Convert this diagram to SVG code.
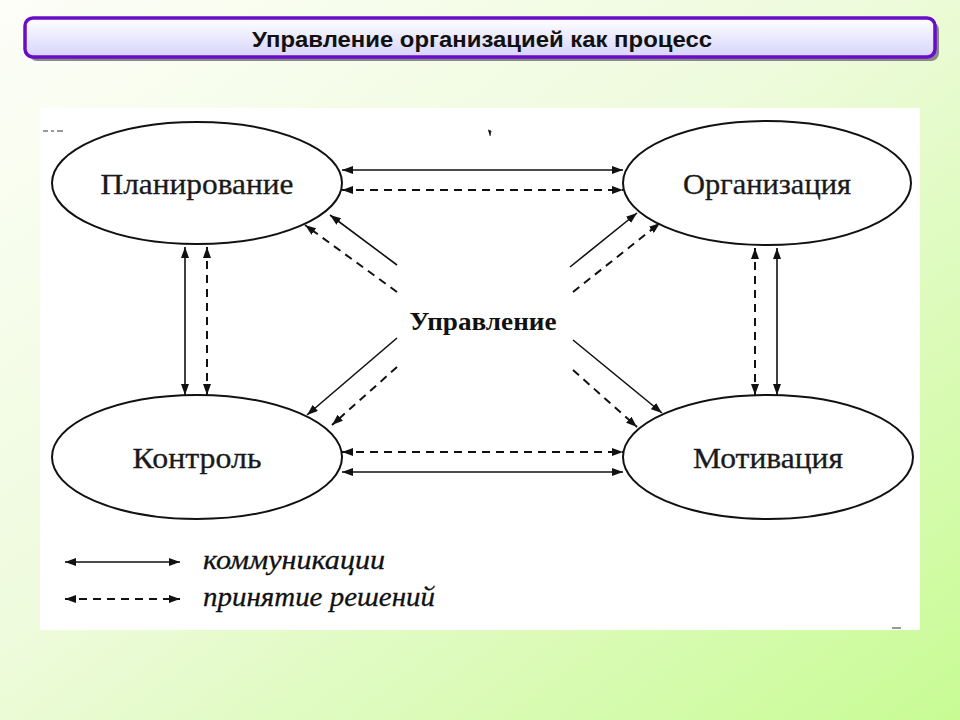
<svg xmlns="http://www.w3.org/2000/svg" width="960" height="720" viewBox="0 0 960 720">
<defs>
<linearGradient id="bg" x1="0" y1="0" x2="1" y2="1">
<stop offset="0" stop-color="#fdfef8"/>
<stop offset="0.45" stop-color="#eefbdc"/>
<stop offset="1" stop-color="#c8fb94"/>
</linearGradient>
<linearGradient id="tb" x1="0" y1="0" x2="0" y2="1">
<stop offset="0" stop-color="#ffffff"/>
<stop offset="1" stop-color="#d6d4fb"/>
</linearGradient>
<marker id="ah" viewBox="0 0 11 8" refX="11" refY="4" markerWidth="11" markerHeight="8" markerUnits="userSpaceOnUse" orient="auto-start-reverse">
<path d="M0,0 L11,4 L0,8 z" fill="#111"/>
</marker>
<style>
.node ellipse{fill:#fff;stroke:#111;stroke-width:2}
.lbl{font-family:"Liberation Serif","DejaVu Serif",serif;font-size:29px;fill:#1a1a1a;text-anchor:middle;stroke:#1a1a1a;stroke-width:0.3}
.sol{stroke:#111;stroke-width:1.6;fill:none}
.dsh{stroke:#111;stroke-width:2;fill:none;stroke-dasharray:8 6}
.leg{font-family:"Liberation Serif","DejaVu Serif",serif;font-style:italic;font-size:27px;fill:#111;stroke:#111;stroke-width:0.3}
</style>
</defs>
<rect width="960" height="720" fill="url(#bg)"/>
<g id="title">
<rect x="29" y="22" width="910" height="39" rx="8" fill="#888"/>
<rect x="25" y="18" width="910" height="39" rx="8" fill="url(#tb)" stroke="#6a0dc8" stroke-width="3.5"/>
<text x="482" y="47" font-family="'Liberation Sans','DejaVu Sans',sans-serif" font-weight="bold" font-size="22" text-anchor="middle" fill="#111" textLength="460" lengthAdjust="spacingAndGlyphs">Управление организацией как процесс</text>
</g>
<rect x="40" y="108" width="880" height="522" fill="#fff"/>
<g id="specks" stroke="#333" stroke-width="1">
<path d="M43,131 h5 M51,131 h3 M57,131 h6"/>
<path d="M488,130 l3,1 l-1,5"/>
<path d="M892,628 h9"/>
</g>
<g id="node-planirovanie" class="node">
<ellipse cx="197" cy="183" rx="145" ry="61"/>
<text class="lbl" x="197" y="194" textLength="193" lengthAdjust="spacingAndGlyphs">Планирование</text>
</g>
<g id="node-organizatsiya" class="node">
<ellipse cx="767" cy="183" rx="144" ry="62"/>
<text class="lbl" x="767" y="194" textLength="168" lengthAdjust="spacingAndGlyphs">Организация</text>
</g>
<g id="node-kontrol" class="node">
<ellipse cx="197" cy="457" rx="145" ry="62"/>
<text class="lbl" x="197" y="468" textLength="129" lengthAdjust="spacingAndGlyphs">Контроль</text>
</g>
<g id="node-motivatsiya" class="node">
<ellipse cx="768" cy="457" rx="145" ry="62"/>
<text class="lbl" x="768" y="468" textLength="150" lengthAdjust="spacingAndGlyphs">Мотивация</text>
</g>
<g id="node-upravlenie">
<text x="483" y="330" font-family="'Liberation Serif','DejaVu Serif',serif" font-weight="bold" font-size="25" text-anchor="middle" fill="#111" textLength="147" lengthAdjust="spacingAndGlyphs">Управление</text>
</g>
<g id="connectors">
<line class="sol" x1="342" y1="170" x2="623" y2="170" marker-start="url(#ah)" marker-end="url(#ah)"/>
<line class="dsh" x1="342" y1="190" x2="623" y2="190" marker-start="url(#ah)" marker-end="url(#ah)"/>
<line class="dsh" x1="342" y1="452" x2="623" y2="452" marker-start="url(#ah)" marker-end="url(#ah)"/>
<line class="sol" x1="342" y1="472" x2="623" y2="472" marker-start="url(#ah)" marker-end="url(#ah)"/>
<line class="sol" x1="185" y1="247" x2="185" y2="395" marker-start="url(#ah)" marker-end="url(#ah)"/>
<line class="dsh" x1="207" y1="247" x2="207" y2="395" marker-start="url(#ah)" marker-end="url(#ah)"/>
<line class="dsh" x1="755" y1="248" x2="755" y2="395" marker-start="url(#ah)" marker-end="url(#ah)"/>
<line class="sol" x1="777" y1="248" x2="777" y2="395" marker-start="url(#ah)" marker-end="url(#ah)"/>
<line class="sol" x1="397" y1="265" x2="330" y2="215" marker-end="url(#ah)"/>
<line class="dsh" x1="397" y1="292" x2="305" y2="225" marker-end="url(#ah)"/>
<line class="sol" x1="570" y1="267" x2="637" y2="213" marker-end="url(#ah)"/>
<line class="dsh" x1="573" y1="292" x2="660" y2="223" marker-end="url(#ah)"/>
<line class="sol" x1="397" y1="338" x2="307" y2="415" marker-end="url(#ah)"/>
<line class="dsh" x1="397" y1="367" x2="332" y2="425" marker-end="url(#ah)"/>
<line class="sol" x1="573" y1="340" x2="662" y2="413" marker-end="url(#ah)"/>
<line class="dsh" x1="573" y1="370" x2="637" y2="427" marker-end="url(#ah)"/>
</g>
<g id="legend">
<line class="sol" x1="65" y1="562" x2="180" y2="562" marker-start="url(#ah)" marker-end="url(#ah)"/>
<line class="dsh" x1="65" y1="599" x2="180" y2="599" stroke-dasharray="7 6" marker-start="url(#ah)" marker-end="url(#ah)"/>
<text class="leg" x="203" y="569" textLength="182" lengthAdjust="spacingAndGlyphs">коммуникации</text>
<text class="leg" x="203" y="606" textLength="232" lengthAdjust="spacingAndGlyphs">принятие решений</text>
</g>
</svg>
